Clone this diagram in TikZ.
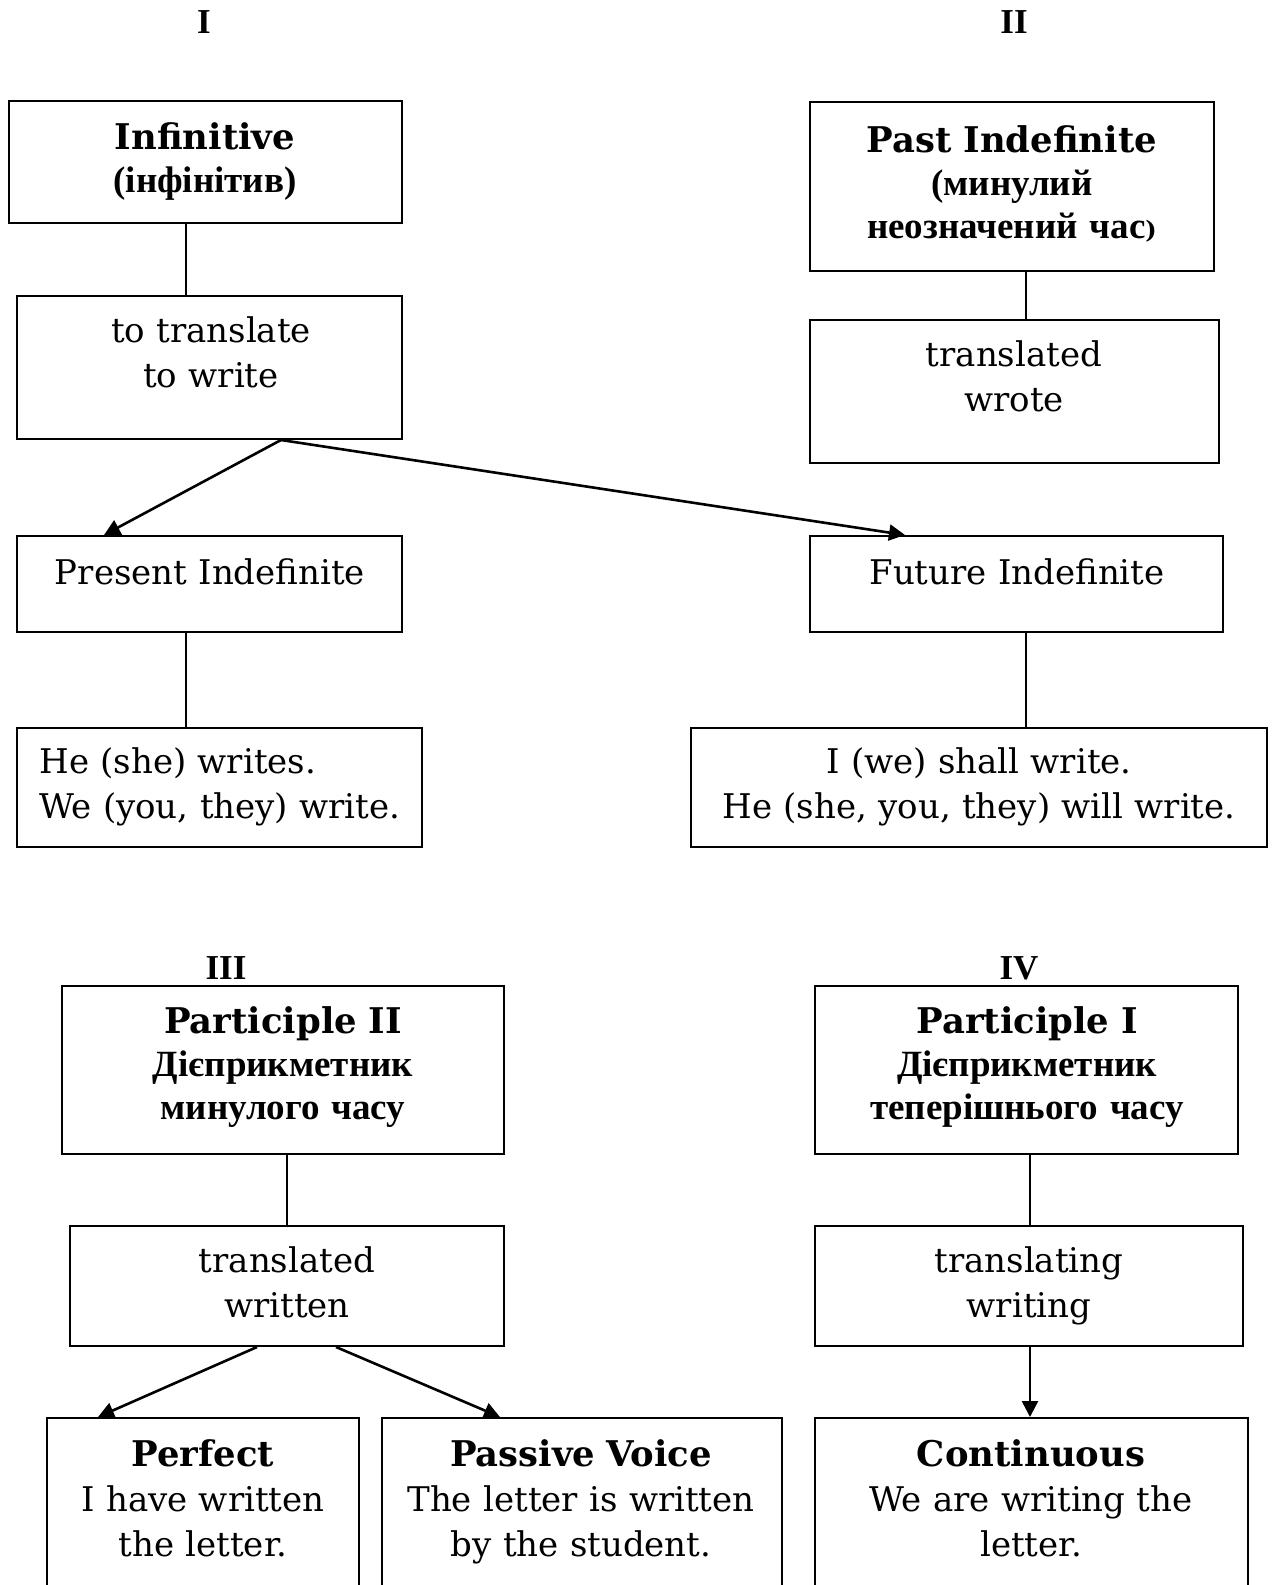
\documentclass[tikz,border=0pt]{standalone}
\usepackage{fontspec}
\setmainfont{DejaVu Serif}
\newfontfamily\cyr{Liberation Serif}
\usetikzlibrary{arrows.meta,fit}
\newcommand{\cyrb}[1]{{\cyr\bfseries\fontsize{18.5}{21.7}\selectfont #1}}
\newcommand{\bhead}[1]{{\fontsize{17.7}{22.7}\selectfont\bfseries #1}}
\tikzset{
  x=0.5pt, y=-0.5pt,
  box/.style={draw, line width=1pt, inner sep=0pt},
  txt/.style={inner sep=0pt, align=center, anchor=base, font=\fontsize{17}{22.7}\selectfont},
  hdr/.style={inner sep=0pt, align=center, anchor=base, font=\fontsize{17.7}{21.7}\selectfont\bfseries},
  num/.style={inner sep=0pt, anchor=base, font=\cyr\bfseries\fontsize{17.5}{20}\selectfont},
  link/.style={line width=1pt},
  arr/.style={line width=1.3pt, -{Triangle[length=8pt,width=8pt]}}
}
\begin{document}
\begin{tikzpicture}
\useasboundingbox (0,0) rectangle (1271,1585);
% section labels
\node[num] (n1) at (204,33) {I};
\node[num] (n2) at (1014,33) {II};
\node[num] (n3) at (226,979) {III};
\node[num] (n4) at (1019,979) {IV};
% boxes
\node[box, fit={(9,101) (402,223)}] (b1) {};
\node[box, fit={(17,296) (402,439)}] (b2) {};
\node[box, fit={(17,536) (402,632)}] (b3) {};
\node[box, fit={(17,728) (422,847)}] (b4) {};
\node[box, fit={(810,102) (1214,271)}] (b5) {};
\node[box, fit={(810,320) (1219,463)}] (b6) {};
\node[box, fit={(810,536) (1223,632)}] (b7) {};
\node[box, fit={(691,728) (1267,847)}] (b8) {};
\node[box, fit={(62,986) (504,1154)}] (b9) {};
\node[box, fit={(70,1226) (504,1346)}] (b10) {};
\node[box, fit={(47,1418) (359,1600)}] (b11) {};
\node[box, fit={(382,1418) (782,1600)}] (b12) {};
\node[box, fit={(815,986) (1238,1154)}] (b13) {};
\node[box, fit={(815,1226) (1243,1346)}] (b14) {};
\node[box, fit={(815,1418) (1248,1600)}] (b15) {};
% texts
\node[hdr, text width=186pt] (t1) at (205,149) {Infinitive\\\cyrb{(інфінітив)}};
\node[txt, text width=182pt] (t2) at (211,342) {to translate\\to write};
\node[txt, text width=182pt] (t3) at (210,584) {Present Indefinite};
\node[txt, text width=192pt, align=left, anchor=base west] (t4) at (39,773) {He (she) writes.\\We (you, they) write.};
\node[hdr, text width=192pt] (t5) at (1012,152) {Past Indefinite\\\cyrb{(минулий}\\\cyrb{неозначений час}{\fontsize{12}{14}\selectfont)}};
\node[txt, text width=194pt] (t6) at (1014,366) {translated\\wrote};
\node[txt, text width=196pt] (t7) at (1017,584) {Future Indefinite};
\node[txt, text width=278pt] (t8) at (979,773) {I (we) shall write.\\He (she, you, they) will write.};
\node[hdr, text width=211pt] (t9) at (283,1033) {Participle II\\\cyrb{Дієприкметник}\\\cyrb{минулого часу}};
\node[txt, text width=207pt] (t10) at (287,1272) {translated\\written};
\node[txt, text width=150pt] (t11) at (203,1466) {\bhead{Perfect}\\I have written\\the letter.};
\node[txt, text width=194pt] (t12) at (581,1466) {\bhead{Passive Voice}\\The letter is written\\by the student.};
\node[hdr, text width=206pt] (t13) at (1027,1033) {Participle I\\\cyrb{Дієприкметник}\\\cyrb{теперішнього часу}};
\node[txt, text width=208pt] (t14) at (1029,1272) {translating\\writing};
\node[txt, text width=210pt] (t15) at (1031,1466) {\bhead{Continuous}\\We are writing the\\letter.};
% column helpers
\coordinate (xa) at (186,0);
\coordinate (xb) at (1026,0);
\coordinate (xc) at (281,0);
\coordinate (xd) at (104,0);
\coordinate (xe) at (905,0);
\coordinate (xf) at (287,0);
\coordinate (xg) at (257,0);
\coordinate (xh) at (98,0);
\coordinate (xi) at (336,0);
\coordinate (xj) at (500,0);
\coordinate (xk) at (1030,0);
% connectors
\draw[link] (xa |- b1.south) -- (xa |- b2.north);
\draw[link] (xa |- b3.south) -- (xa |- b4.north);
\draw[link] (xb |- b5.south) -- (xb |- b6.north);
\draw[link] (xb |- b7.south) -- (xb |- b8.north);
\draw[arr] (xc |- b2.south) -- (xd |- b3.north);
\draw[arr] (xc |- b2.south) -- (xe |- b7.north);
\draw[link] (xf |- b9.south) -- (xf |- b10.north);
\draw[arr] (xg |- b10.south) -- (xh |- b11.north);
\draw[arr] (xi |- b10.south) -- (xj |- b12.north);
\draw[link] (xk |- b13.south) -- (xk |- b14.north);
\draw[arr] (xk |- b14.south) -- (xk |- b15.north);
\end{tikzpicture}
\end{document}
